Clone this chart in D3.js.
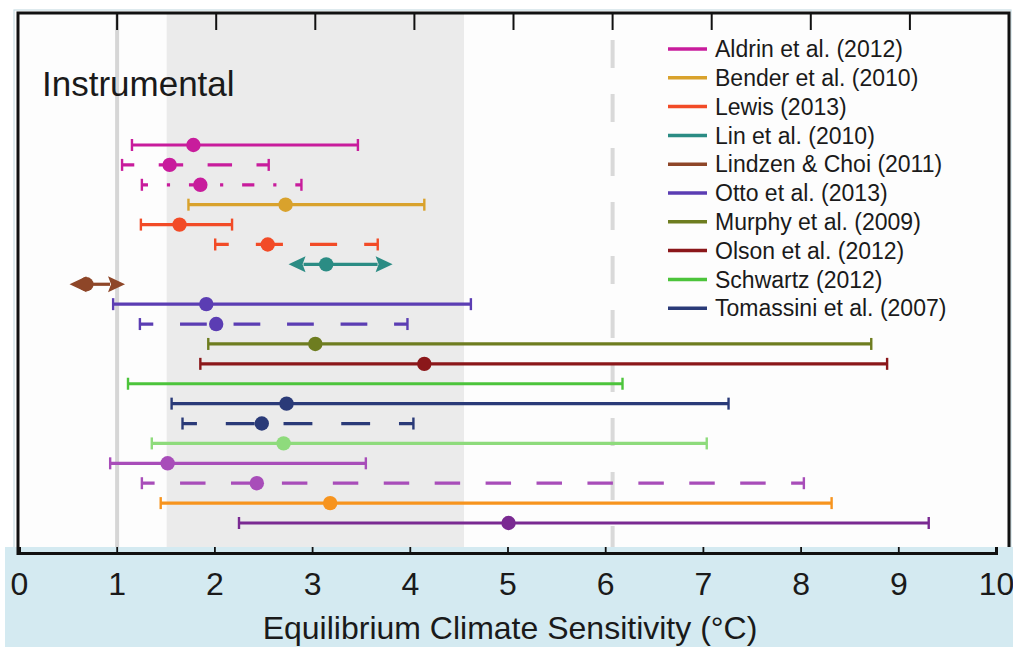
<!DOCTYPE html>
<html>
<head>
<meta charset="utf-8">
<script src="https://cdn.jsdelivr.net/npm/d3@7"></script>
<style>
  html, body { margin: 0; padding: 0; background: #ffffff; }
  svg { display: block; font-family: "Liberation Sans", Arial, Helvetica, sans-serif; }
</style>
</head>
<body>
<svg id="chart" width="1013" height="647"></svg>
<script>
// Studies shown in the legend and their colours
const studies = [
  "Aldrin et al. (2012)", "Bender et al. (2010)", "Lewis (2013)", "Lin et al. (2010)",
  "Lindzen & Choi (2011)", "Otto et al. (2013)", "Murphy et al. (2009)",
  "Olson et al. (2012)", "Schwartz (2012)", "Tomassini et al. (2007)"
];
const studyColors = [
  "#c81c9c", "#d9a22c", "#f24b27", "#2b8c84", "#8e4628",
  "#5b3db3", "#6e7d20", "#8b171a", "#4cc43b", "#2a3a78"
];

// One entry per estimate, top to bottom (°C)
const estimateLow  = [1.15, 1.05, 1.25, 1.72, 1.24, 1.99, 2.73, 0.52, 0.96, 1.23,
                      1.92, 1.84, 1.11, 1.55, 1.66, 1.35, 0.93, 1.25, 1.44, 2.23];
const estimateBest = [1.77, 1.53, 1.84, 2.70, 1.63, 2.52, 3.11, 0.69, 1.90, 2.00,
                      3.00, 4.10, null, 2.71, 2.46, 2.68, 1.51, 2.41, 3.15, 4.95];
const estimateHigh = [3.43, 2.53, 2.86, 4.10, 2.16, 3.63, 3.78, 1.08, 4.57, 3.93,
                      8.61, 8.77, 6.10, 7.17, 3.99, 6.95, 3.51, 7.93, 8.21, 9.19];

// Drawing style of each estimate line
const rowColors = [
  "#c81c9c", "#c81c9c", "#c81c9c", "#d9a22c", "#f24b27", "#f24b27", "#2b8c84", "#8e4628",
  "#5b3db3", "#5b3db3", "#6e7d20", "#8b171a", "#4cc43b", "#2a3a78", "#2a3a78",
  "#8edb7c", "#a84db9", "#a84db9", "#f7941e", "#7a2a92"
];
const rowDash = ["solid", "dash", "dashdot", "solid", "solid", "dash", "solid", "solid",
                 "solid", "dash", "solid", "solid", "solid", "solid", "dash",
                 "solid", "solid", "dash", "solid", "solid"];
const rowRepeats = [0, 3, 3, 0, 0, 3, 0, 0, 0, 5, 0, 0, 0, 0, 4, 0, 0, 13, 0, 0];
const rowEnds = ["cap", "cap", "cap", "cap", "cap", "cap", "arrow", "arrow",
                 "cap", "cap", "cap", "cap", "cap", "cap", "cap",
                 "cap", "cap", "cap", "cap", "cap"];

// Reference values marked across the panel
const likelyRange = [1.5, 4.5];
const lowerBound = 1;
const upperBound = 6;
const xTicks = d3.range(0, 11);

const svg = d3.select("#chart");
const W = 1013, H = 647;

// Panel geometry
const panel = { left: 18, right: 1009, top: 13, bottom: 547 };
const x = d3.scaleLinear().domain([0, 10]).range([panel.left, panel.right]);
const xAxisScale = d3.scaleLinear().domain([0, 10]).range([19, 996]);
const y = d3.scaleLinear().domain([0, estimateLow.length - 1]).range([145, 523]);

// Backgrounds
svg.append("rect").attr("x", 0).attr("y", 0).attr("width", W).attr("height", H).attr("fill", "#ffffff");
svg.append("rect").attr("x", 14).attr("y", 10).attr("width", 997).attr("height", 540)
  .attr("fill", "#fdfdfd").attr("stroke", "#c9dde3").attr("stroke-width", 1.2);
svg.append("rect").attr("x", 5).attr("y", panel.bottom).attr("width", W - 5).attr("height", H - panel.bottom)
  .attr("fill", "#d4eaf1");

// Likely range shading
svg.append("rect")
  .attr("x", x(likelyRange[0])).attr("y", panel.top)
  .attr("width", x(likelyRange[1]) - x(likelyRange[0]))
  .attr("height", panel.bottom - panel.top)
  .attr("fill", "#ebebeb");

// Bound lines
svg.append("line")
  .attr("x1", x(lowerBound)).attr("x2", x(lowerBound))
  .attr("y1", panel.top).attr("y2", panel.bottom)
  .attr("stroke", "#d6d6d6").attr("stroke-width", 4);
svg.append("line")
  .attr("x1", x(upperBound)).attr("x2", x(upperBound))
  .attr("y1", 14).attr("y2", panel.bottom)
  .attr("stroke", "#d9d9d9").attr("stroke-width", 4)
  .attr("stroke-dasharray", "28,26").attr("stroke-dashoffset", 28);

// Panel frame (left, top, right) and top ticks
const frame = svg.append("g").attr("stroke", "#111").attr("fill", "none");
frame.append("path")
  .attr("d", `M${panel.left},555 L${panel.left},${panel.top} L${panel.right},${panel.top} L${panel.right},${panel.bottom}`)
  .attr("stroke-width", 3);
frame.selectAll("line.toptick")
  .data(xTicks.filter(d => d > 0 && d < 10))
  .join("line")
  .attr("class", "toptick")
  .attr("x1", d => x(d)).attr("x2", d => x(d))
  .attr("y1", panel.top).attr("y2", panel.top + 17)
  .attr("stroke-width", 2);

// "Instrumental" label
svg.append("text")
  .attr("x", 42).attr("y", 96)
  .attr("font-size", 35)
  .attr("fill", "#1a1a1a")
  .text("Instrumental");

// Estimate lines
const rows = estimateLow.map((lo, i) => ({
  i, lo, hi: estimateHigh[i], best: estimateBest[i],
  color: rowColors[i], dash: rowDash[i], n: rowRepeats[i], ends: rowEnds[i]
}));

function dashFor(r) {
  const L = x(r.hi) - x(r.lo);
  if (r.dash === "dash") {
    const p = L / r.n, d = p / 2;
    return { array: `${d},${d}`, offset: d / 2 };
  }
  if (r.dash === "dashdot") {
    const p = L / r.n;
    return { array: `${0.23 * p},${0.355 * p},${0.06 * p},${0.355 * p}`, offset: 0.115 * p };
  }
  return null;
}

const g = svg.append("g");
rows.forEach(r => {
  const yy = y(r.i);
  const row = g.append("g").attr("fill", r.color).attr("stroke", r.color);
  const ds = dashFor(r);
  const arrowLen = 17, arrowHalf = 8;
  const x1 = r.ends === "arrow" ? x(r.lo) + arrowLen - 2 : x(r.lo);
  const x2 = r.ends === "arrow" ? x(r.hi) - arrowLen + 2 : x(r.hi);
  const ln = row.append("line")
    .attr("x1", x1).attr("x2", x2).attr("y1", yy).attr("y2", yy)
    .attr("stroke-width", 3.2);
  if (ds) {
    ln.attr("x1", x(r.lo)).attr("x2", x(r.hi))
      .attr("stroke-dasharray", ds.array).attr("stroke-dashoffset", ds.offset);
  }
  if (r.ends === "cap") {
    [r.lo, r.hi].forEach(v => {
      row.append("line")
        .attr("x1", x(v)).attr("x2", x(v))
        .attr("y1", yy - 6).attr("y2", yy + 6)
        .attr("stroke-width", 2.4);
    });
  } else {
    // arrowheads pointing outwards at both ends
    const tipL = x(r.lo), tipR = x(r.hi);
    row.append("path").attr("stroke", "none")
      .attr("d", `M${tipL},${yy} L${tipL + arrowLen},${yy - arrowHalf} L${tipL + arrowLen - 3},${yy} L${tipL + arrowLen},${yy + arrowHalf} Z`);
    row.append("path").attr("stroke", "none")
      .attr("d", `M${tipR},${yy} L${tipR - arrowLen},${yy - arrowHalf} L${tipR - arrowLen + 3},${yy} L${tipR - arrowLen},${yy + arrowHalf} Z`);
  }
  if (r.best !== null) {
    row.append("circle")
      .attr("cx", x(r.best)).attr("cy", yy).attr("r", 7.2)
      .attr("stroke", "none");
  }
});

// Legend
const legend = svg.append("g");
studies.forEach((s, i) => {
  const ly = 49 + i * 28.8;
  legend.append("line")
    .attr("x1", 668).attr("x2", 707).attr("y1", ly).attr("y2", ly)
    .attr("stroke", studyColors[i]).attr("stroke-width", 3.5);
  legend.append("text")
    .attr("x", 715).attr("y", ly).attr("dy", "0.36em")
    .attr("font-size", 23)
    .attr("fill", "#1a1a1a")
    .text(s);
});

// Bottom axis
const axis = d3.axisBottom(xAxisScale)
  .tickValues(xTicks)
  .tickFormat(d3.format("d"))
  .tickSizeInner(-6)
  .tickSizeOuter(-6)
  .tickPadding(19);
const ax = svg.append("g")
  .attr("transform", "translate(0,553)")
  .call(axis);
ax.select(".domain").attr("stroke", "#111").attr("stroke-width", 3);
ax.selectAll(".tick line").attr("stroke", "#111").attr("stroke-width", 1.8);
ax.selectAll(".tick text")
  .attr("font-size", 32)
  .attr("font-family", "'Liberation Sans', Arial, sans-serif")
  .attr("fill", "#1a1a1a");

// Axis title
svg.append("text")
  .attr("x", 510).attr("y", 639)
  .attr("text-anchor", "middle")
  .attr("font-size", 32)
  .attr("fill", "#1a1a1a")
  .text("Equilibrium Climate Sensitivity (°C)");
</script>
</body>
</html>
